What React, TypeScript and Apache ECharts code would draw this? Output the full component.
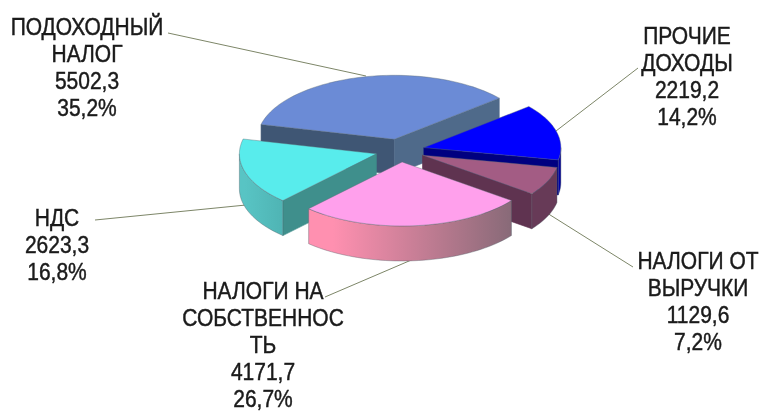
import React, { useEffect, useRef } from "react";
import * as echarts from "echarts";

// Data, in pie order (clockwise from the top right)
const names = [
  "ПРОЧИЕ\nДОХОДЫ",
  "НАЛОГИ ОТ\nВЫРУЧКИ",
  "НАЛОГИ НА\nСОБСТВЕННОС\nТЬ",
  "НДС",
  "ПОДОХОДНЫЙ\nНАЛОГ",
];
const values = [2219.2, 1129.6, 4171.7, 2623.3, 5502.3];

// Styles
const topColors = ["#0000FF", "#A35C84", "#FFA0EC", "#58ECEC", "#6B8BD6"];
const cutStartColors = ["#000080", "#52293F", "#7F5076", "#3F8F8C", "#3F5674"];
const cutEndColors = ["#000080", "#5F3350", "#7F5076", "#3F8F8C", "#4F6A8A"];
const wallStops: [string, string][] = [
  ["#0000B0", "#000090"],
  ["#673A57", "#673A57"],
  ["#FF90B0", "#886A78"],
  ["#58C4C4", "#4FB4B4"],
  ["#3F5674", "#3F5674"],
];

// Layout
const CX = 400, CY = 150.5, RX = 137, RY = 64, DEPTH = 35, EXPLODE = 0.18;
const START_DEG = -40;
const TEXT_SCALE_Y = 1.14;
const labelX = [687, 698, 263, 57, 87];
const labelY = [36, 261, 291, 218, 27];
const leaders = [
  [[638, 68], [556, 131]],
  [[633, 267], [547, 213]],
  [[325, 297], [416, 258]],
  [[95, 220], [246, 205]],
  [[168, 33], [366, 76]],
];

const total = values.reduce((a, b) => a + b, 0);
const fmt = (v: number) => v.toFixed(1).replace(".", ",");
const rad = (d: number) => (d * Math.PI) / 180;

function App() {
  const ref = useRef<HTMLDivElement>(null);
  useEffect(() => {
    document.body.style.margin = "0";
    const chart = echarts.init(ref.current!, null, { renderer: "svg" });

    const renderItem = (params: any, api: any) => {
      const i = params.dataIndex;
      const value = api.value(0);
      let before = 0;
      for (let k = 0; k < i; k++) before += values[k];
      const a0 = START_DEG + (before / total) * 360;
      const a1 = a0 + (value / total) * 360;
      const mid = (a0 + a1) / 2;
      const ox = CX + RX * EXPLODE * Math.cos(rad(mid));
      const oy = CY + RY * EXPLODE * Math.sin(rad(mid));
      const pt = (a: number, dz = 0) => [
        ox + RX * Math.cos(rad(a)),
        oy + RY * Math.sin(rad(a)) + dz,
      ];
      const arc = (s: number, e: number, dz = 0) => {
        const n = Math.max(2, Math.ceil(Math.abs(e - s) / 2));
        const out: number[][] = [];
        for (let j = 0; j <= n; j++) out.push(pt(s + ((e - s) * j) / n, dz));
        return out;
      };
      const baseZ = 100 + Math.round(Math.sin(rad(mid)) * 90);
      const children: any[] = [];
      const poly = (points: number[][], fill: any, stroke: string, lw = 0.6) =>
        children.push({
          type: "polygon",
          z2: baseZ + children.length / 10,
          shape: { points },
          style: { fill, stroke, lineWidth: lw },
        });

      if (Math.cos(rad(a0)) < 0) {
        const p = pt(a0);
        poly([[ox, oy], p, [p[0], p[1] + DEPTH], [ox, oy + DEPTH]], cutStartColors[i], cutStartColors[i]);
      }
      if (Math.cos(rad(a1)) > 0) {
        const p = pt(a1);
        poly([[ox, oy], p, [p[0], p[1] + DEPTH], [ox, oy + DEPTH]], cutEndColors[i], cutEndColors[i]);
      }
      const ws = Math.max(a0, 0);
      const we = Math.min(a1, 180);
      if (we > ws) {
        const [c0, c1] = wallStops[i];
        const grad = new echarts.graphic.LinearGradient(0, 0, 1, 0, [
          { offset: 0, color: c0 },
          { offset: 0.12, color: c0 },
          { offset: 1, color: c1 },
        ]);
        poly(arc(ws, we).concat(arc(we, ws, DEPTH)), grad, "#55606a", 0.4);
      }
      poly([[ox, oy], ...arc(a0, a1)], topColors[i], "#5b6a72", 0.4);

      children.push({
        type: "line",
        z2: 1,
        shape: {
          x1: leaders[i][0][0],
          y1: leaders[i][0][1],
          x2: leaders[i][1][0],
          y2: leaders[i][1][1],
        },
        style: { stroke: "#7d8668", lineWidth: 1 },
      });
      const pct = (value / total) * 100;
      children.push({
        type: "text",
        z2: 300,
        x: labelX[i],
        y: labelY[i] - 14,
        scaleY: TEXT_SCALE_Y,
        style: {
          text: `${names[i]}\n${fmt(value)}\n${fmt(pct)}%`,
          font: '21px "Liberation Sans", Arial, sans-serif',
          lineHeight: 23.8,
          fill: "#1a1a1a",
          stroke: "#1a1a1a",
          lineWidth: 0.4,
          align: "center",
          verticalAlign: "top",
        },
      });
      return { type: "group", children };
    };

    chart.setOption({
      animation: false,
      backgroundColor: "#ffffff",
      series: [
        {
          type: "custom",
          coordinateSystem: "none",
          clip: false,
          data: values.map((v, i) => ({ name: names[i], value: [v] })),
          renderItem,
        },
      ],
    });
    return () => chart.dispose();
  }, []);
  return (
    <div
      ref={ref}
      style={{ position: "absolute", left: 0, top: 0, width: 763, height: 411, filter: "blur(0.4px)" }}
    />
  );
}

export default App;
